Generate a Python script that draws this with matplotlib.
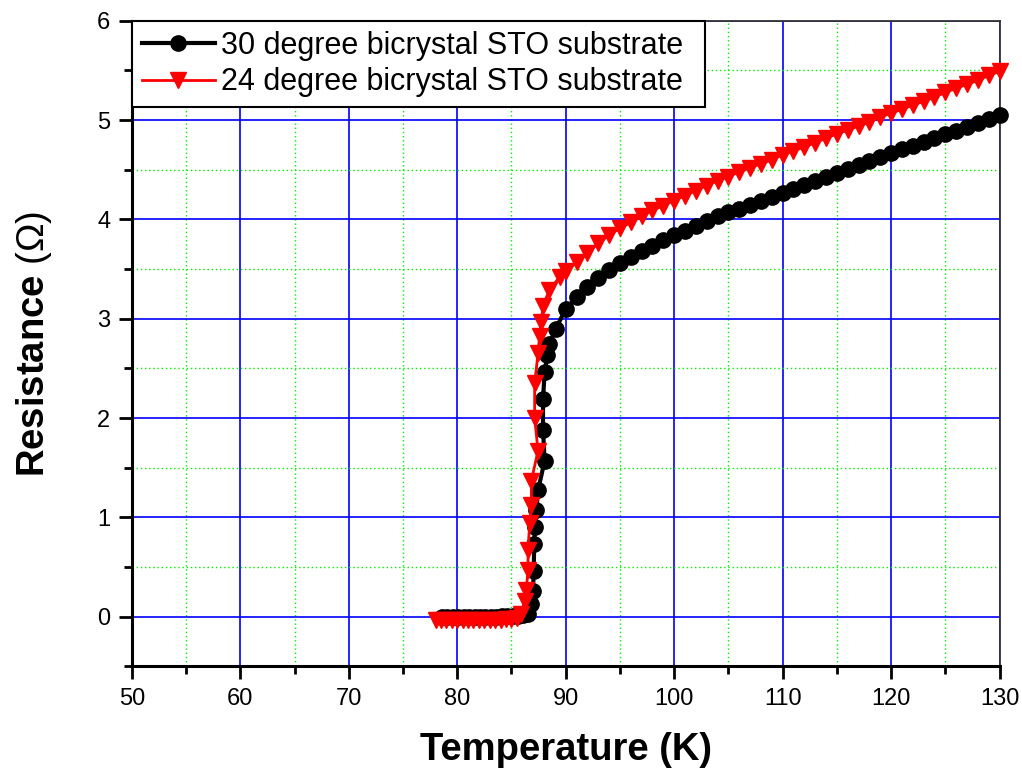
import matplotlib
matplotlib.use("Agg")
import matplotlib.pyplot as plt
from matplotlib.ticker import MultipleLocator

plt.rcParams['font.family'] = ['Liberation Sans', 'DejaVu Sans']
plt.rcParams['mathtext.fontset'] = 'custom'
plt.rcParams['mathtext.rm'] = 'Liberation Sans'
plt.rcParams['mathtext.bf'] = 'Liberation Sans:bold'

# 30 degree bicrystal STO substrate (black circles)
T_30 = [78.6, 79.1, 79.6, 80.1, 80.6, 81.1, 81.6, 82.1, 82.6, 83.1, 83.6, 84.1, 84.6,
        85.1, 85.6, 86.1, 86.5,
        86.84, 86.99, 87.05, 87.1, 87.15, 87.3, 87.45, 88.06, 87.91, 87.91, 88.06,
        88.3, 88.5, 89.1,
        90, 91, 92, 93, 94, 95, 96, 97, 98, 99, 100, 101, 102, 103, 104, 105,
        106, 107, 108, 109, 110, 111, 112, 113, 114, 115, 116, 117, 118, 119, 120,
        121, 122, 123, 124, 125, 126, 127, 128, 129, 130]
R_30 = [0.0, 0.0, 0.0, 0.0, 0.0, 0.0, 0.0, 0.0, 0.0, 0.0, 0.0, 0.01, 0.01,
        0.01, 0.01, 0.02, 0.03,
        0.13, 0.26, 0.46, 0.73, 0.90, 1.07, 1.27, 1.57, 1.88, 2.19, 2.46,
        2.63, 2.75, 2.90,
        3.10, 3.22, 3.32, 3.41, 3.49, 3.56, 3.62, 3.68, 3.73, 3.79, 3.84, 3.88,
        3.93, 3.98, 4.03, 4.07, 4.11, 4.15, 4.19, 4.23, 4.27, 4.31, 4.35, 4.39,
        4.43, 4.47, 4.51, 4.55, 4.59, 4.63, 4.67, 4.71, 4.74, 4.78, 4.82, 4.86,
        4.89, 4.93, 4.97, 5.01, 5.05]

# 24 degree bicrystal STO substrate (red triangles)
T_24 = [78.0, 78.5, 79.0, 79.5, 80.0, 80.5, 81.0, 81.5, 82.0, 82.5, 83.0, 83.5, 84.0,
        84.5, 85.0, 85.5, 85.9,
        86.22, 86.37, 86.53, 86.53, 86.68, 86.84, 86.84, 87.45, 87.14, 87.14,
        87.45, 87.6, 87.76, 87.91, 88.5, 89.45,
        90, 91, 92, 93, 94, 95, 96, 97, 98, 99, 100, 101, 102, 103, 104, 105,
        106, 107, 108, 109, 110, 111, 112, 113, 114, 115, 116, 117, 118, 119, 120,
        121, 122, 123, 124, 125, 126, 127, 128, 129, 130]
R_24 = [-0.03, -0.03, -0.03, -0.03, -0.03, -0.03, -0.03, -0.03, -0.03, -0.03, -0.03,
        -0.03, -0.03, -0.02, -0.02, -0.01, 0.03,
        0.16, 0.27, 0.47, 0.67, 0.94, 1.12, 1.37, 1.67, 2.00, 2.35,
        2.65, 2.83, 2.97, 3.13, 3.29, 3.42,
        3.48, 3.57, 3.66, 3.76, 3.84, 3.91, 3.97, 4.03, 4.09, 4.14, 4.19, 4.24,
        4.29, 4.34, 4.39, 4.43, 4.48, 4.52, 4.56, 4.60, 4.65, 4.69, 4.73, 4.77,
        4.82, 4.86, 4.90, 4.94, 4.98, 5.03, 5.07, 5.11, 5.15, 5.19, 5.23, 5.28,
        5.32, 5.36, 5.40, 5.45, 5.49]

fig = plt.figure(figsize=(10.22, 7.72), dpi=100)
ax = fig.add_axes([0.129, 0.137, 0.849, 0.836])

ax.plot(T_30, R_30, color='black', lw=3, marker='o', ms=11,
        label='30 degree bicrystal STO substrate', clip_on=False, zorder=3)
ax.plot(T_24, R_24, color='red', lw=2, marker='v', ms=12, mec='red',
        label='24 degree bicrystal STO substrate', clip_on=False, zorder=4)

ax.set_xlim(50, 130)
ax.set_ylim(-0.5, 6)
ax.xaxis.set_major_locator(MultipleLocator(10))
ax.xaxis.set_minor_locator(MultipleLocator(5))
ax.yaxis.set_major_locator(MultipleLocator(1))
ax.yaxis.set_minor_locator(MultipleLocator(0.5))

ax.grid(which='major', color='#0000ff', lw=1.2, ls='-')
ax.grid(which='minor', color='#00ee00', lw=1.0, ls=(0, (1, 2)))
ax.set_axisbelow(True)

for s in ['left', 'bottom']:
    ax.spines[s].set_linewidth(2.2)
    ax.spines[s].set_color('black')
for s in ['top', 'right']:
    ax.spines[s].set_linewidth(1.3)
    ax.spines[s].set_color('#333333')

ax.tick_params(which='major', direction='out', length=9.5, width=2, labelsize=17, pad=6)
ax.tick_params(which='minor', direction='out', length=5.5, width=2)

ax.set_xlabel('Temperature (K)', fontsize=27.5, fontweight='bold', labelpad=16)
ax.set_ylabel(r'$\mathbf{Resistance}$ (Ω)', fontsize=27.5, labelpad=31)

leg = ax.legend(loc='upper left', bbox_to_anchor=(0, 0, 0.660, 1.0), mode='expand',
                borderaxespad=0, fontsize=22, frameon=True, fancybox=False,
                edgecolor='black', handlelength=2.4, handletextpad=0.2,
                borderpad=0.32, labelspacing=0.22)
leg.get_frame().set_linewidth(1.5)
leg.get_frame().set_alpha(1)

fig.savefig('out.png', dpi=100)
